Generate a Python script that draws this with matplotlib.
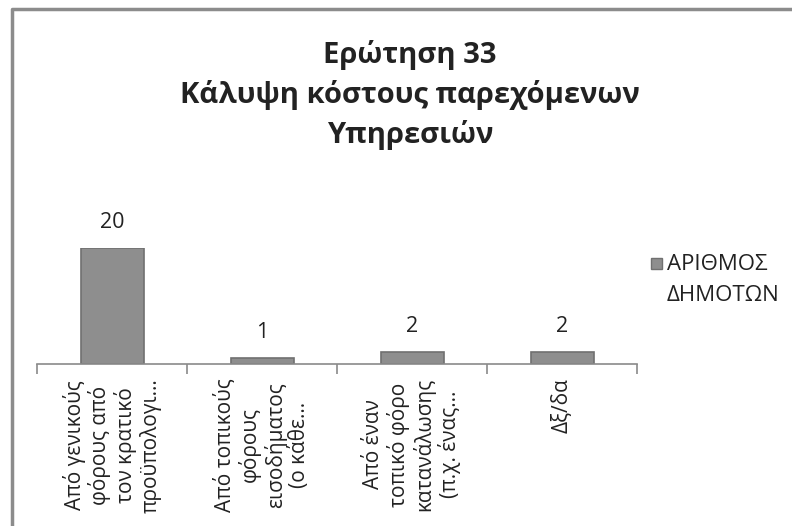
import matplotlib.pyplot as plt
from matplotlib.lines import Line2D

plt.rcParams['font.family'] = ['Open Sans', 'DejaVu Sans']

categories = [
    "Από γενικούς\nφόρους από\nτον κρατικό\nπροϋπολογι...",
    "Από τοπικούς\nφόρους\nεισοδήματος\n(ο κάθε...",
    "Από έναν\nτοπικό φόρο\nκατανάλωσης\n(π.χ. ένας...",
    "Δξ/δα",
]
values = [20, 1, 2, 2]
series_name = "ΑΡΙΘΜΟΣ\nΔΗΜΟΤΩΝ"
title = "Ερώτηση 33\nΚάλυψη κόστους παρεχόμενων\nΥπηρεσιών"

W, H = 792, 526
fig = plt.figure(figsize=(W / 100, H / 100), dpi=100)
ax = fig.add_axes([37 / W, (H - 364) / H, 600 / W, 116 / H])

x = range(len(values))
bars = ax.bar(x, values, width=0.42, color="#8e8e8e", edgecolor="#707070", linewidth=1.2)
ax.set_ylim(0, 20)
ax.set_xlim(-0.5, len(values) - 0.5)

for xi, v in zip(x, values):
    ax.annotate(str(v), (xi, v), textcoords="offset points", xytext=(0, 11),
                ha="center", va="bottom", fontsize=15.5, color="#222222", annotation_clip=False)

for s in ["left", "right", "top"]:
    ax.spines[s].set_visible(False)
ax.spines["bottom"].set_color("#8a8a8a")
ax.spines["bottom"].set_linewidth(1.2)
ax.set_yticks([])
ax.set_xticks([i - 0.5 for i in range(len(values) + 1)])
ax.set_xticklabels([])
ax.tick_params(axis="x", length=7, color="#8a8a8a", width=1.2, direction="out")

for xi, lab in zip(x, categories):
    ax.annotate(lab, (xi, 0), xycoords="data", textcoords="offset points", xytext=(0, -10),
                rotation=90, ha="center", va="top", multialignment="center",
                fontsize=15, linespacing=1.15, color="#222222", annotation_clip=False)

fig.text(410 / W, 1 - 95 / H, title, ha="center", va="center", fontsize=21,
         fontweight="bold", linespacing=1.45, color="#222222")

# legend
fig.patches.append(plt.Rectangle((651 / W, 1 - 269 / H), 11 / W, 11 / H, transform=fig.transFigure,
                                 facecolor="#8e8e8e", edgecolor="#707070", linewidth=1))
fig.text(667 / W, 1 - 280 / H, series_name, ha="left", va="center", fontsize=16,
         linespacing=1.65, color="#222222")

# outer frame
fig.lines.append(Line2D([12 / W, 12 / W, 1], [0, 1 - 9 / H, 1 - 9 / H], transform=fig.transFigure,
                        color="#8c8c8c", linewidth=2.5))

fig.savefig("out.png", dpi=100)
